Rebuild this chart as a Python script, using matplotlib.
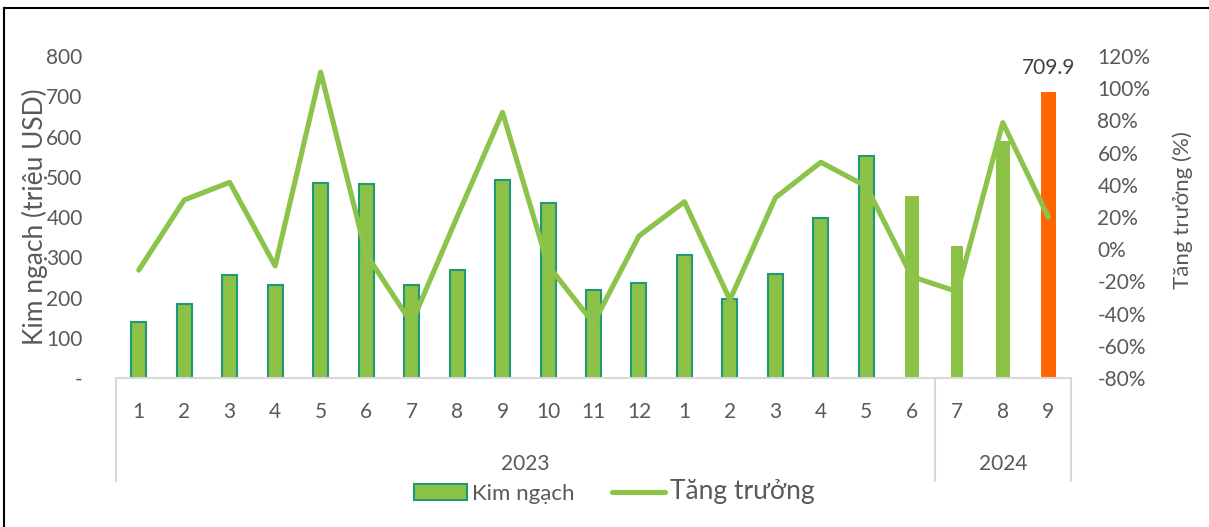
import matplotlib
matplotlib.use("Agg")
import matplotlib.pyplot as plt
from matplotlib.patches import Patch
from matplotlib.lines import Line2D
from matplotlib.transforms import blended_transform_factory

plt.rcParams['font.family'] = ['Lato', 'DejaVu Sans']

months = ["1", "2", "3", "4", "5", "6", "7", "8", "9", "10", "11", "12",
          "1", "2", "3", "4", "5", "6", "7", "8", "9"]
years = ["2023", "2024"]
year_spans = [(0, 17), (18, 20)]
kim_ngach = [140, 183, 257, 230, 484, 483, 232, 268, 491, 435, 219, 237,
             306, 197, 259, 398, 552, 452, 327, 590, 709.9]
tang_truong = [-13, 30.6, 41.5, -10.4, 110, -3, -46, 20, 85, -10, -46, 8.2,
               29.5, -31.5, 32, 54, 39, -17, -26.4, 78.6, 20]
left_ticks = [0, 100, 200, 300, 400, 500, 600, 700, 800]
left_tick_labels = ["-", "100", "200", "300", "400", "500", "600", "700", "800"]
right_ticks = [-80, -60, -40, -20, 0, 20, 40, 60, 80, 100, 120]

W, H = 1209, 527
fig = plt.figure(figsize=(W / 100, H / 100), dpi=100)
ax = fig.add_axes([116 / W, (H - 378) / H, (1071 - 116) / W, (378 - 56) / H])

GREEN = "#8BC145"
EDGE = "#1E9A7B"
ORANGE = "#FF6600"
LINEG = "#8CC34B"
TXT = "#595959"

x = list(range(len(months)))
n = len(months)
for i in x:
    if i == n - 1:
        ax.bar(i, kim_ngach[i], width=0.32, color=ORANGE, linewidth=0, zorder=2)
    elif i >= 17:
        ax.bar(i, kim_ngach[i], width=0.32 if i != 18 else 0.27, color=GREEN,
               linewidth=0, zorder=2)
    else:
        ax.bar(i, kim_ngach[i], width=0.33, color=GREEN, edgecolor=EDGE,
               linewidth=1.5, zorder=2)

ax.text(n - 1, kim_ngach[-1] + 35, f"{kim_ngach[-1]:.1f}", ha="center",
        va="bottom", fontsize=15, color="#404040")

ax.set_xlim(-0.5, n - 0.5)
ax.set_ylim(0, 800)
ax.set_yticks(left_ticks)
ax.set_yticklabels(left_tick_labels)
ax.set_xticks(x)
ax.set_xticklabels(months)
ax.tick_params(axis="x", length=0, pad=17, labelsize=15, colors=TXT)
ax.tick_params(axis="y", length=0, pad=24, labelsize=15, colors=TXT)
for s in ["top", "left", "right"]:
    ax.spines[s].set_visible(False)
ax.spines["bottom"].set_color("#D9D9D9")
ax.spines["bottom"].set_linewidth(1.5)
ax.set_ylabel("Kim ngạch (triệu USD)", fontsize=19, color=TXT)
ax.yaxis.set_label_coords(-0.071, 0.5)

ax2 = ax.twinx()
ax2.plot(x, tang_truong, color=LINEG, linewidth=3.7, solid_joinstyle="round",
         solid_capstyle="round", zorder=3)
ax2.set_ylim(-80, 120)
ax2.set_yticks(right_ticks)
ax2.set_yticklabels([f"{t}%" for t in right_ticks])
ax2.tick_params(axis="y", length=0, pad=19, labelsize=15, colors=TXT)
for s in ["top", "left", "right", "bottom"]:
    ax2.spines[s].set_visible(False)
ax2.set_ylabel("Tăng trưởng (%)", fontsize=16, color=TXT, rotation=90)
ax2.yaxis.set_label_coords(1.106, 0.52)

# group separators and year labels
tr = blended_transform_factory(ax.transData, ax.transAxes)
ybot = (378 - 481) / (378 - 56)
for xs in [-0.5, 17.5, n - 0.5]:
    ax.add_line(Line2D([xs, xs], [0, ybot], transform=tr, color="#D9D9D9",
                       linewidth=1.5, clip_on=False))
yyear = (378 - 464) / (378 - 56)
for label, (a, b) in zip(years, year_spans):
    ax.text((a + b) / 2, yyear, label, transform=tr, ha="center", va="center",
            fontsize=15, color=TXT)

# legend
handles = [Patch(facecolor=GREEN, edgecolor=EDGE, linewidth=1.5),
           Line2D([0], [0], color=LINEG, linewidth=3.7, solid_capstyle="round")]
leg = fig.legend(handles, ["Kim ngạch", "Tăng trưởng"], loc="center",
                 bbox_to_anchor=(614 / W, (H - 492) / H), ncol=2, frameon=False,
                 fontsize=16, handlelength=2.4, handletextpad=0.2,
                 columnspacing=1.7, labelcolor=TXT)
leg.get_texts()[1].set_fontsize(19)

# outer frame (top and left)
fig.add_artist(Line2D([4 / W, 1], [(H - 8) / H, (H - 8) / H],
                      transform=fig.transFigure, color="black", linewidth=1.5))
fig.add_artist(Line2D([4 / W, 4 / W], [0, (H - 8) / H],
                      transform=fig.transFigure, color="black", linewidth=1.5))

fig.savefig("out.png", dpi=100, facecolor="white")
